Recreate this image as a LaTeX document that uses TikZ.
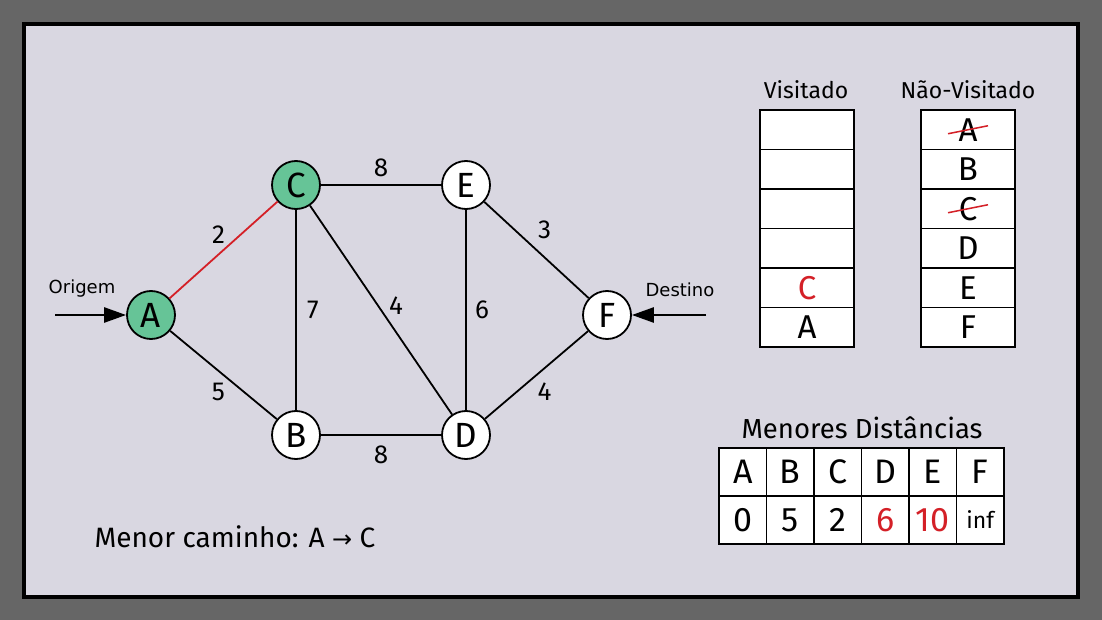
\documentclass[tikz,border=0pt]{standalone}
\usepackage{fontspec}
\setmainfont{Fira Sans}
\newfontfamily\dejavu{DejaVu Sans}
\usetikzlibrary{positioning,arrows.meta,calc}
\definecolor{frame}{HTML}{666666}
\definecolor{panel}{HTML}{D9D7E1}
\definecolor{visgreen}{HTML}{66C497}
\definecolor{hlred}{HTML}{D42027}

\begin{document}
\begin{tikzpicture}[x=1pt, y=-1pt,
    >={Triangle[length=22pt,width=15pt]},
    vertex/.style={circle, draw, line width=1.8pt, fill=#1, minimum size=48pt, inner sep=0pt, font=\fontsize{35}{35}\selectfont},
    vertex/.default=white,
    edge/.style={line width=1.8pt},
    wlbl/.style={font=\fontsize{26}{26}\selectfont, midway, text=black},
    cell/.style={draw, line width=1.8pt, fill=white, minimum width=94pt, minimum height=39.5pt, inner sep=0pt, font=\fontsize{33}{33}\selectfont},
    dcell/.style={draw, line width=1.8pt, fill=white, minimum width=47.5pt, minimum height=48pt, inner sep=0pt, font=\fontsize{34}{34}\selectfont},
    title/.style={font=\fontsize{23}{23}\selectfont},
    side/.style={font=\dejavu\fontsize{18}{18}\selectfont},
    strike/.style={hlred, line width=1.5pt},
    pointer/.style={->, line width=2.6pt},
]

% --- Frame ---
\useasboundingbox (0,0) rectangle (1102,620);
\fill[frame] (0,0) rectangle (1102,620);
\draw[line width=4pt, fill=panel] (24,24) rectangle (1078,597);

% --- Graph ---
\node[vertex=visgreen] (A) at (151,315) {A};
\node[vertex] (B) at (296,435) {B};
\node[vertex=visgreen] (C) at (296,185) {C};
\node[vertex] (D) at (466,435) {D};
\node[vertex] (E) at (466,185) {E};
\node[vertex] (F) at (607,315) {F};

\draw[edge, hlred] (A) -- (C) node[wlbl, xshift=-5pt, yshift=15pt] {2};
\draw[edge] (C) -- (E) node[wlbl, yshift=17pt] {8};
\draw[edge] (C) -- (B) node[wlbl, xshift=17pt] {7};
\draw[edge] (C) -- (D) node[wlbl, xshift=15pt, yshift=4pt] {4};
\draw[edge] (E) -- (D) node[wlbl, xshift=16pt] {6};
\draw[edge] (E) -- (F) node[wlbl, xshift=8pt, yshift=20pt] {3};
\draw[edge] (A) -- (B) node[wlbl, xshift=-5pt, yshift=-17pt] {5};
\draw[edge] (B) -- (D) node[wlbl, yshift=-20pt] {8};
\draw[edge] (D) -- (F) node[wlbl, xshift=8pt, yshift=-17pt] {4};

% Origin and destination
\node[side] (orig_lbl) at (82,289) {Origem};
\coordinate (orig) at (55,315);
\draw[pointer] (orig) -- (A);
\node[side] (dest_lbl) at (680,290) {Destino};
\coordinate (dest) at (706,315);
\draw[pointer] (dest) -- (F);

\node[anchor=west, font=\fontsize{28}{28}\selectfont] (path) at (91,537) {Menor caminho: A {\dejavu\fontsize{24}{24}\selectfont→} C};

% --- Visited / unvisited ---
\node[title] (vis_title) at (806,90) {Visitado};
\foreach \i/\t in {1/,2/,3/,4/,5/{\color{hlred}C},6/A}
  \node[cell] (v\i) at (807,{90.25+39.5*\i}) {\t};

\node[title] (nvis_title) at (968,90) {Não-Visitado};
\foreach \i/\t in {1/A,2/B,3/C,4/D,5/E,6/F}
  \node[cell] (n\i) at (968,{90.25+39.5*\i}) {\t};
\draw[strike] ([shift={(-20,4)}]n1.center) -- ([shift={(20,-4)}]n1.center);
\draw[strike] ([shift={(-20,4)}]n3.center) -- ([shift={(20,-4)}]n3.center);

% --- Shortest distances ---
\node[title, font=\fontsize{27.5}{27.5}\selectfont] (dist_title) at (862,428) {Menores Distâncias};
\foreach \i/\h/\d in {1/A/0,2/B/5,3/C/2,4/D/{\color{hlred}6},5/E/{\color{hlred}10},6/F/{\fontsize{23}{23}\selectfont inf}} {
  \node[dcell] (h\i) at ({695.25+47.5*\i},472) {\h};
  \node[dcell] (d\i) at ({695.25+47.5*\i},520) {\d};
}

\end{tikzpicture}
\end{document}
